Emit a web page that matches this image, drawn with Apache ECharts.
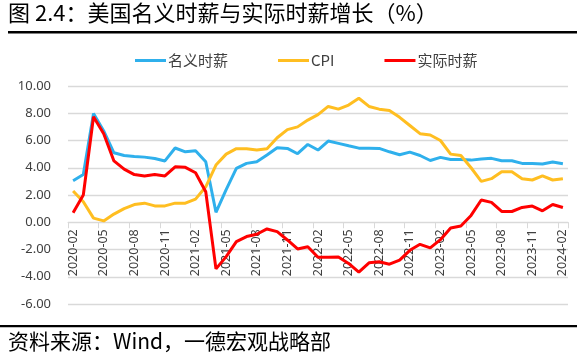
<!DOCTYPE html>
<html>
<head>
<meta charset="utf-8">
<script src="https://cdn.jsdelivr.net/npm/echarts@6/dist/echarts.min.js"></script>
<style>
html,body{margin:0;padding:0;background:#fff;}
#c{width:577px;height:363px;}
</style>
</head>
<body>
<div id="c"></div>
<script>
const months = ["2020-02","2020-03","2020-04","2020-05","2020-06","2020-07","2020-08","2020-09","2020-10","2020-11","2020-12",
"2021-01","2021-02","2021-03","2021-04","2021-05","2021-06","2021-07","2021-08","2021-09","2021-10","2021-11","2021-12",
"2022-01","2022-02","2022-03","2022-04","2022-05","2022-06","2022-07","2022-08","2022-09","2022-10","2022-11","2022-12",
"2023-01","2023-02","2023-03","2023-04","2023-05","2023-06","2023-07","2023-08","2023-09","2023-10","2023-11","2023-12",
"2024-01","2024-02"];
const nominalWage = [3.05,3.5,7.98,6.7,5.1,4.9,4.83,4.78,4.68,4.5,5.45,
5.17,5.25,4.44,0.73,2.4,3.95,4.32,4.44,4.93,5.47,5.42,5.03,
5.71,5.3,5.96,5.79,5.61,5.44,5.44,5.42,5.17,4.95,5.15,4.9,
4.53,4.76,4.6,4.6,4.56,4.64,4.69,4.51,4.51,4.32,4.32,4.27,
4.42,4.3];
const cpi = [2.3,1.5,0.3,0.1,0.6,1.0,1.3,1.4,1.2,1.2,1.4,
1.4,1.7,2.6,4.2,5.0,5.4,5.4,5.3,5.4,6.2,6.8,7.0,
7.5,7.9,8.5,8.3,8.6,9.1,8.5,8.3,8.2,7.7,7.1,6.5,
6.4,6.0,5.0,4.9,4.0,3.0,3.2,3.7,3.7,3.2,3.1,3.4,
3.1,3.2];
const realWage = [0.7,2.0,7.74,6.5,4.5,3.9,3.5,3.4,3.5,3.4,4.07,
4.03,3.63,2.24,-3.42,-2.52,-1.42,-1.05,-0.88,-0.49,-0.69,-1.3,-1.96,
-1.8,-2.57,-2.57,-2.55,-3.02,-3.66,-2.98,-2.9,-3.08,-2.78,-2.06,-1.62,
-1.88,-1.28,-0.42,-0.28,0.5,1.63,1.46,0.79,0.79,1.09,1.19,0.84,
1.3,1.08];
const yTicks = {min:-6, max:10, interval:2};
const names = ["名义时薪","CPI","实际时薪"];

const chart = echarts.init(document.getElementById('c'), null, {renderer:'canvas'});
const lineSeries = (name, data, color) => ({
  name, type:'line', data, symbol:'none', smooth:false,
  lineStyle:{width:3, color}, itemStyle:{color}
});
// plot: top 86 -> 10, bottom 304 -> -6 ; zero line at 304 - 6/16*218
const plotTop = 86, plotBottom = 304;
const zeroOffset = (plotBottom - plotTop) * (0 - yTicks.min) / (yTicks.max - yTicks.min);
chart.setOption({
  animation:false,
  textStyle:{fontFamily:'"Noto Sans CJK SC","Noto Sans",sans-serif'},
  grid:{left:68, right:9, top:plotTop, bottom:363 - plotBottom, containLabel:false},
  legend:{
    left:130, top:48, icon:'rect', itemWidth:31, itemHeight:3, itemGap:50,
    textStyle:{fontSize:15, color:'#404040', padding:[0,0,0,-3]},
    data:names
  },
  xAxis:{
    type:'category', data:months, boundaryGap:true, position:'bottom',
    offset:-zeroOffset,
    axisLine:{onZero:false, lineStyle:{color:'#d9d9d9', width:1}},
    axisTick:{show:true, interval:2, length:6, lineStyle:{color:'#d9d9d9'}},
    axisLabel:{interval:2, rotate:90, fontSize:12.5, color:'#404040', margin:7, fontFamily:'"Noto Sans","Open Sans",sans-serif'},
    splitLine:{show:false}
  },
  yAxis:{
    type:'value', min:yTicks.min, max:yTicks.max, interval:yTicks.interval,
    axisLine:{show:false}, axisTick:{show:false},
    axisLabel:{fontSize:13, color:'#404040', margin:17, formatter:v=>v.toFixed(2), fontFamily:'"Noto Sans","Open Sans",sans-serif'},
    splitLine:{lineStyle:{color:'#d9d9d9', width:1.3}}
  },
  series:[
    lineSeries(names[0], nominalWage, '#2fb0ec'),
    lineSeries(names[1], cpi, '#ffbe21'),
    lineSeries(names[2], realWage, '#ff0000')
  ],
  graphic:[
    {type:'text', left:8, top:2, style:{text:'图 2.4：美国名义时薪与实际时薪增长（%）', font:'22px "Noto Sans CJK SC"', fill:'#000'}},
    {type:'rect', shape:{x:8, y:31, width:569, height:2.5}, style:{fill:'#000'}},
    {type:'rect', shape:{x:0, y:325, width:577, height:2.3}, style:{fill:'#000'}},
    {type:'text', left:8, top:331, style:{text:'资料来源：Wind，一德宏观战略部', font:'21px "Noto Sans CJK SC"', fill:'#000'}}
  ]
});
</script>
</body>
</html>
